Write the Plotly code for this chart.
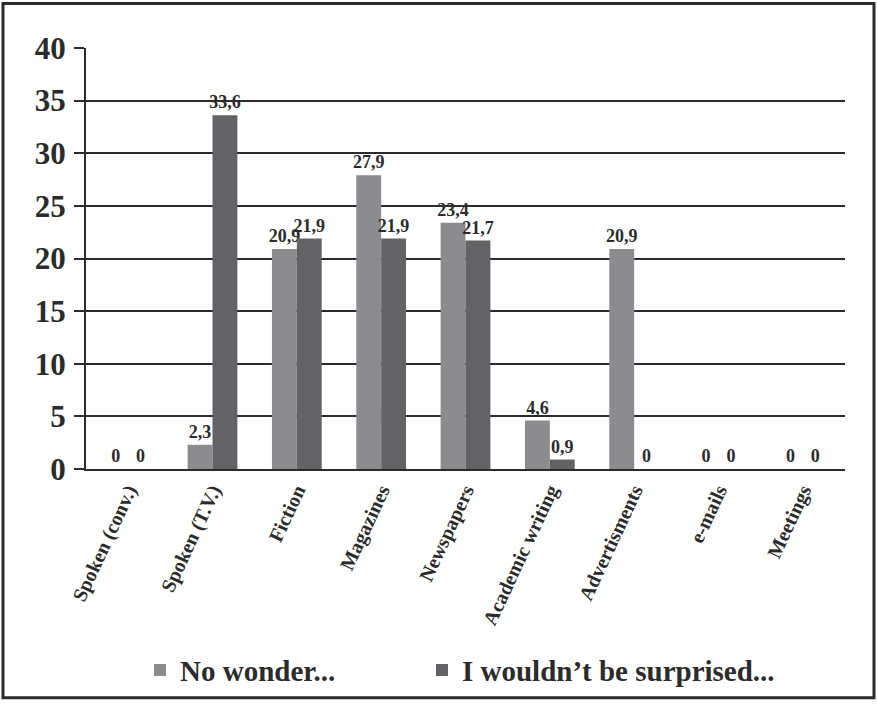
import plotly.graph_objects as go

categories = ["Spoken (conv.)", "Spoken (T.V.)", "Fiction", "Magazines", "Newspapers",
              "Academic writing", "Advertisments", "e-mails", "Meetings"]
no_wonder = [0, 2.3, 20.9, 27.9, 23.4, 4.6, 20.9, 0, 0]
not_surprised = [0, 33.6, 21.9, 21.9, 21.7, 0.9, 0, 0, 0]
y_ticks = [0, 5, 10, 15, 20, 25, 30, 35, 40]

FONT = "Liberation Serif"
INK = "#2b2b2b"

W, H = 877, 707
L, R, T, B = 86, 32, 48, 234
pw, ph = W - L - R, H - T - B


def px_x(p):
    return (p - L) / pw


def px_y(p):
    return (T + ph - p) / ph


def fmt(v):
    return "0" if v == 0 else f"{v:.1f}".replace(".", ",")


fig = go.Figure()
series = [("No wonder...", no_wonder, "#8c8c8e", "legend"),
          ("I wouldn’t be surprised...", not_surprised, "#636365", "legend2")]
for name, vals, color, leg in series:
    fig.add_trace(go.Bar(
        x=categories, y=vals, name=name, legend=leg,
        marker=dict(color=color, line=dict(width=0)),
        text=[fmt(v) for v in vals], textposition="outside", constraintext="none",
        textfont=dict(family=FONT, size=18, color=INK, weight="bold"),
        cliponaxis=False,
    ))

# outer frame around the whole figure
fig.add_shape(type="rect", xref="paper", yref="paper",
              x0=px_x(3), x1=px_x(874), y0=px_y(704), y1=px_y(3),
              line=dict(color=INK, width=3))

legend_style = dict(orientation="h", xanchor="left", yanchor="middle", y=px_y(676),
                    font=dict(family=FONT, size=29, color=INK, weight="bold"),
                    bgcolor="rgba(0,0,0,0)")

fig.update_layout(
    width=W, height=H,
    margin=dict(l=L, r=R, t=T, b=B),
    paper_bgcolor="white", plot_bgcolor="white",
    bargap=0.41, bargroupgap=0,
    font=dict(family=FONT, color=INK),
    showlegend=True,
    legend=dict(x=px_x(140), **legend_style),
    legend2=dict(x=px_x(422), **legend_style),
)
fig.update_yaxes(range=[0, 40], tickvals=y_ticks, showgrid=True, gridcolor=INK, gridwidth=1.5,
                 showline=True, linecolor=INK, linewidth=2,
                 ticks="outside", ticklen=10, tickcolor=INK, tickwidth=1.5,
                 tickfont=dict(family=FONT, size=31, color=INK, weight="bold"),
                 ticklabelstandoff=2, zeroline=False)
fig.update_xaxes(showline=True, linecolor=INK, linewidth=2, tickangle=-65,
                 tickfont=dict(family=FONT, size=20, color=INK, weight="bold"), ticks="")

fig.write_html("out.html")
